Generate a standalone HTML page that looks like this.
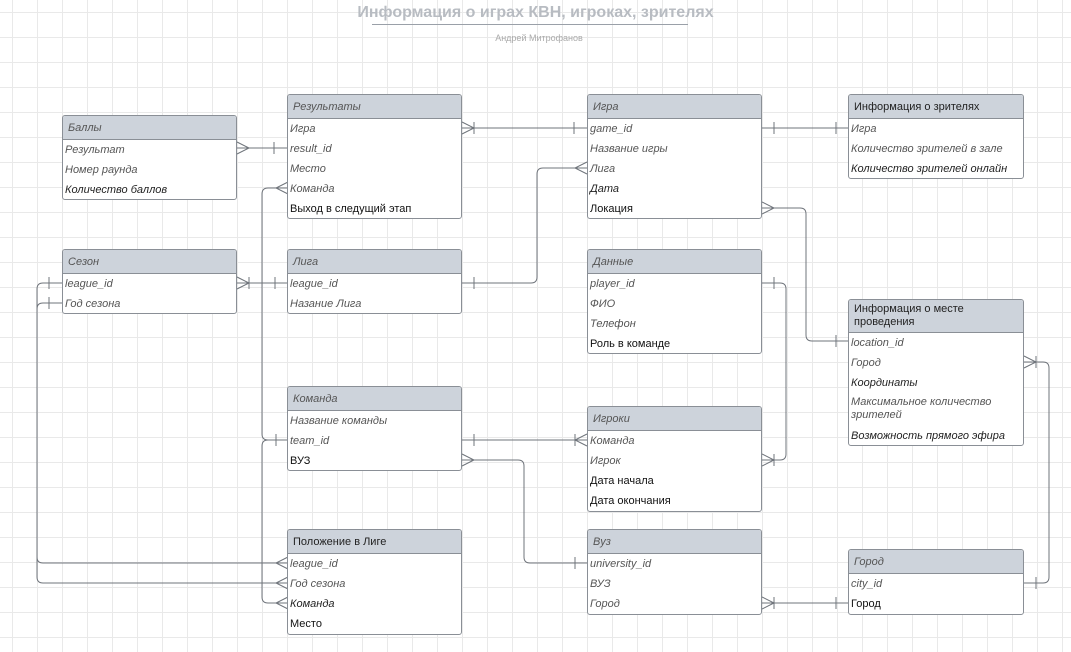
<!DOCTYPE html>
<html><head><meta charset="utf-8"><style>
body{margin:0;width:1071px;height:652px;overflow:hidden;background:#fff;font-family:"Liberation Sans",Arial,sans-serif;position:relative}
.grid{position:absolute;left:0;top:0;width:1071px;height:652px;background-image:linear-gradient(to right,#e9e9e9 1px,transparent 1px),linear-gradient(to bottom,#e9e9e9 1px,transparent 1px);background-size:25px 25px;background-position:12px 12px}
.t{position:absolute;background:#fff;border:1px solid #8a8f96;border-radius:3px;box-sizing:border-box;overflow:hidden}
.h{background:#cdd3db;border-bottom:1px solid #8a8f96;height:24px;line-height:24px;padding-left:5px;font-size:11px;color:#555;font-style:italic;box-sizing:border-box}
.h.n{font-style:normal;color:#222}
.r{height:20px;line-height:20px;font-size:11px;padding-left:2px;white-space:nowrap}
.g{font-style:italic;color:#555}.k{font-style:italic;color:#222}.n{color:#111}
svg{position:absolute;left:0;top:0}
</style></head><body>
<div class="grid"></div>
<div style="position:absolute;left:0;width:1071px;top:4px;text-align:center;font-size:16px;font-weight:bold;color:#b8bcc2">Информация о играх КВН, игроках, зрителях</div>
<div style="position:absolute;left:372px;width:316px;top:24px;height:1px;background:#9aa0a8"></div>
<div style="position:absolute;left:0;width:1078px;top:33px;text-align:center;font-size:9px;color:#aaa">Андрей Митрофанов</div>

<svg width="1071" height="652" fill="none" stroke="#6f747b" stroke-width="1">
<path d="M237 148H288M237 142L249 148L237 154M274 142V154"/>
<path d="M462 128H587M462 122L474 128L462 134M474 122V134M574 122V134"/>
<path d="M288 188H268Q262 188 262 194V434Q262 440 268 440H288M288 182L276 188L288 194M276 434V446"/>
<path d="M288 440H268Q262 440 262 446V597Q262 603 268 603H288M288 597L276 603L288 609"/>
<path d="M587 168H543Q537 168 537 174V277Q537 283 531 283H462M587 162L575 168L587 174M474 277V289"/>
<path d="M762 128H848M774 122V134M836 122V134"/>
<path d="M762 208H800Q806 208 806 214V335Q806 341 812 341H848M762 202L774 208L762 214M836 335V347"/>
<path d="M762 283H780Q786 283 786 289V454Q786 460 780 460H762M774 277V289M762 454L774 460L762 466M774 454V466"/>
<path d="M237 283H288M237 277L249 283L237 289M249 277V289M275 277V289"/>
<path d="M62 283H43Q37 283 37 289V557Q37 563 43 563H288M49 277V289M288 557L276 563L288 569"/>
<path d="M62 303H43Q37 303 37 309V577Q37 583 43 583H288M49 297V309M288 577L276 583L288 589"/>
<path d="M462 440H587M474 434V446M587 434L575 440L587 446M575 434V446"/>
<path d="M462 460H518Q524 460 524 466V557Q524 563 530 563H587M462 454L474 460L462 466M575 557V569"/>
<path d="M762 603H848M762 597L774 603L762 609M774 597V609M836 597V609"/>
<path d="M1024 583H1043Q1049 583 1049 577V368Q1049 362 1043 362H1024M1036 577V589M1024 356L1036 362L1024 368M1036 356V368"/>
</svg>

<div class="t" style="left:62px;top:115px;width:175px;height:85px"><div class="h">Баллы</div><div class="r g">Результат</div><div class="r g">Номер раунда</div><div class="r k">Количество баллов</div></div>
<div class="t" style="left:287px;top:94px;width:175px;height:125px"><div class="h">Результаты</div><div class="r g">Игра</div><div class="r g">result_id</div><div class="r g">Место</div><div class="r g">Команда</div><div class="r n">Выход в следущий этап</div></div>
<div class="t" style="left:587px;top:94px;width:175px;height:125px"><div class="h">Игра</div><div class="r g">game_id</div><div class="r g">Название игры</div><div class="r g">Лига</div><div class="r k">Дата</div><div class="r n">Локация</div></div>
<div class="t" style="left:848px;top:94px;width:176px;height:85px"><div class="h n">Информация о зрителях</div><div class="r g">Игра</div><div class="r g">Количество зрителей в зале</div><div class="r k">Количество зрителей онлайн</div></div>
<div class="t" style="left:62px;top:249px;width:175px;height:65px"><div class="h">Сезон</div><div class="r g">league_id</div><div class="r g">Год сезона</div></div>
<div class="t" style="left:287px;top:249px;width:175px;height:65px"><div class="h">Лига</div><div class="r g">league_id</div><div class="r g">Назание Лига</div></div>
<div class="t" style="left:587px;top:249px;width:175px;height:105px"><div class="h">Данные</div><div class="r g">player_id</div><div class="r g">ФИО</div><div class="r g">Телефон</div><div class="r n">Роль в команде</div></div>
<div class="t" style="left:848px;top:299px;width:176px;height:147px"><div class="h n" style="height:33px;line-height:13px;padding-top:3px">Информация о месте<br>проведения</div><div class="r g">location_id</div><div class="r g">Город</div><div class="r k">Координаты</div><div class="r g" style="height:33px;line-height:13px;white-space:normal;padding-top:3px;box-sizing:border-box">Максимальное количество зрителей</div><div class="r k">Возможность прямого эфира</div></div>
<div class="t" style="left:287px;top:386px;width:175px;height:85px"><div class="h">Команда</div><div class="r g">Название команды</div><div class="r g">team_id</div><div class="r n">ВУЗ</div></div>
<div class="t" style="left:587px;top:406px;width:175px;height:106px"><div class="h">Игроки</div><div class="r g">Команда</div><div class="r g">Игрок</div><div class="r n">Дата начала</div><div class="r n">Дата окончания</div></div>
<div class="t" style="left:287px;top:529px;width:175px;height:106px"><div class="h n">Положение в Лиге</div><div class="r g">league_id</div><div class="r g">Год сезона</div><div class="r k">Команда</div><div class="r n">Место</div></div>
<div class="t" style="left:587px;top:529px;width:175px;height:86px"><div class="h">Вуз</div><div class="r g">university_id</div><div class="r g">ВУЗ</div><div class="r g">Город</div></div>
<div class="t" style="left:848px;top:549px;width:176px;height:66px"><div class="h">Город</div><div class="r g">city_id</div><div class="r n">Город</div></div>
</body></html>
